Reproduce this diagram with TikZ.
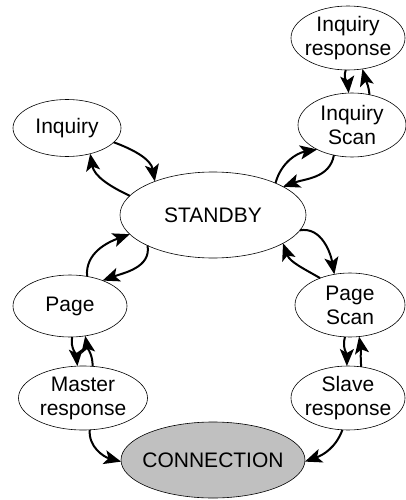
\documentclass[tikz,border=0pt]{standalone}
\usepackage{fontspec}
\setmainfont{Liberation Sans}
\usetikzlibrary{shapes.geometric,arrows.meta}
\begin{document}
\begin{tikzpicture}[x=1pt,y=-1pt,
  st/.style={ellipse,draw,line width=0.6pt,inner sep=0pt,outer sep=0pt,align=center,
    font=\fontsize{21}{24}\selectfont},
  tight/.style={inner xsep=-3pt},
  conn/.style={line width=2pt,-{Stealth[length=17pt,width=14pt,inset=4pt]}}]
\useasboundingbox (0,0) rectangle (406,500);
\node[st,tight,minimum width=114,minimum height=64] (ir) at (348,38) {Inquiry\\response};
\node[st,minimum width=108,minimum height=64] (is) at (352,125) {Inquiry\\Scan};
\node[st,minimum width=108,minimum height=57] (inq) at (67,128) {Inquiry};
\node[st,minimum width=186,minimum height=86] (sb) at (213,215) {STANDBY};
\node[st,minimum width=114,minimum height=62] (pg) at (70,306) {Page};
\node[st,minimum width=110,minimum height=64] (ps) at (350,305) {Page\\Scan};
\node[st,tight,minimum width=129,minimum height=64] (mr) at (83,398) {Master\\response};
\node[st,tight,minimum width=114,minimum height=64] (sr) at (348,398) {Slave\\response};
\node[st,fill={rgb,255:red,192;green,192;blue,192},inner xsep=-6pt,minimum width=184,minimum height=76] (cn) at (213,460) {CONNECTION};
% Inquiry <-> STANDBY
\draw[conn] (inq.-17) to[out=-20,in=100] (sb.150);
\draw[conn] (sb.167) to[out=155,in=-80] (inq.-48);
% STANDBY <-> Inquiry Scan
\draw[conn] (sb.27) to[out=75,in=190] (is.215);
\draw[conn] (is.-121) to[out=-100,in=20] (sb.22);
% Inquiry response <-> Inquiry Scan
\draw[conn] (ir.-94) to[out=-110,in=95] (is.96);
\draw[conn] (is.60) to[out=95,in=-75] (ir.-65);
% STANDBY <-> Page
\draw[conn] (pg.60) to[out=95,in=200] (sb.193);
\draw[conn] (sb.205) to[out=-80,in=20] (pg.38);
% STANDBY <-> Page Scan
\draw[conn] (ps.138) to[out=150,in=-70] (sb.-22);
\draw[conn] (sb.-10) to[out=10,in=100] (ps.117);
% Page <-> Master response
\draw[conn] (pg.-86) to[out=-100,in=95] (mr.100);
\draw[conn] (mr.73) to[out=90,in=-80] (pg.-63);
% Page Scan <-> Slave response
\draw[conn] (ps.-99) to[out=-105,in=90] (sr.92);
\draw[conn] (sr.67) to[out=95,in=-80] (ps.-74);
% to CONNECTION
\draw[conn] (mr.-78) to[out=-95,in=165] (cn.181);
\draw[conn] (sr.-100) to[out=-110,in=20] (cn.-1);
\end{tikzpicture}
\end{document}
